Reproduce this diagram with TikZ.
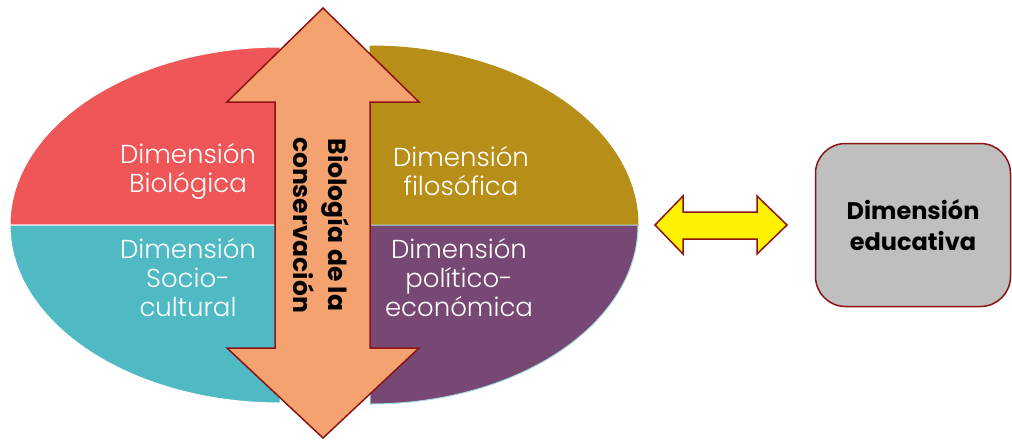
\documentclass[tikz,border=0pt]{standalone}
\usepackage{fontspec}
\setmainfont{Poppins}
\newfontfamily\fina{Poppins Light}
\definecolor{rojo}{RGB}{239,86,87}
\definecolor{turquesa}{RGB}{79,186,195}
\definecolor{ocre}{RGB}{183,142,24}
\definecolor{morado}{RGB}{118,72,115}
\definecolor{salmon}{RGB}{244,162,112}
\definecolor{borde}{RGB}{140,20,20}
\definecolor{gris}{RGB}{191,191,191}
\begin{document}
\begin{tikzpicture}[x=1pt, y=-1pt,
	dimension/.style={text=white, align=center, font=\fina\fontsize{26}{29}\selectfont},
	flecha/.style={draw=borde, line width=1.5pt, line join=miter}]
	\useasboundingbox (0,0) rectangle (1012,440);
	
	% mitad izquierda
	\filldraw[fill=rojo, draw=white, line width=1pt] (280,225) -- (10,225) arc[start angle=180, end angle=270, x radius=270, y radius=178] -- cycle;
	\filldraw[fill=turquesa, draw=white, line width=1pt] (280,225) -- (10,225) arc[start angle=180, end angle=90, x radius=270, y radius=178] -- cycle;
	% mitad derecha
	\filldraw[fill=ocre, draw=ocre, line width=1pt] (370,225) -- (638,225) arc[start angle=0, end angle=-90, x radius=268, y radius=179] -- cycle;
	\filldraw[fill=morado, draw=turquesa!50!white, line width=1pt] (370,225) -- (638,225) arc[start angle=0, end angle=90, x radius=268, y radius=179] -- cycle;
	
	% flecha vertical
	\draw[flecha, fill=salmon] (323,8) -- (419,102) -- (370,102) -- (370,348) -- (419,348) -- (323,438)
		-- (227,348) -- (275,348) -- (275,102) -- (227,102) -- cycle;
	
	% flecha horizontal
	\draw[flecha, fill=yellow] (655,225) -- (683,196) -- (683,212) -- (757,212) -- (757,196) -- (787,225)
		-- (757,254) -- (757,239) -- (683,239) -- (683,254) -- cycle;
	
	\node[dimension] (bio) at (188,171) {Dimensión\\Biológica};
	\node[dimension] (socio) at (188,278) {Dimensión\\Socio-\\cultural};
	\node[dimension] (filo) at (461,171) {Dimensión\\filosófica};
	\node[dimension] (poli) at (459,278) {Dimensión\\político-\\económica};
	\node[rotate=-90, align=center, font=\bfseries\fontsize{25}{35}\selectfont] (conserv) at (321,225) {Biología de la\\conservación};
	
	\node[draw=borde, line width=1.5pt, fill=gris, rounded corners=30pt, minimum width=195pt, minimum height=163pt,
		align=center, font=\bfseries\fontsize{24}{31}\selectfont] (edu) at (913,225) {Dimensión\\educativa};
\end{tikzpicture}
\end{document}
